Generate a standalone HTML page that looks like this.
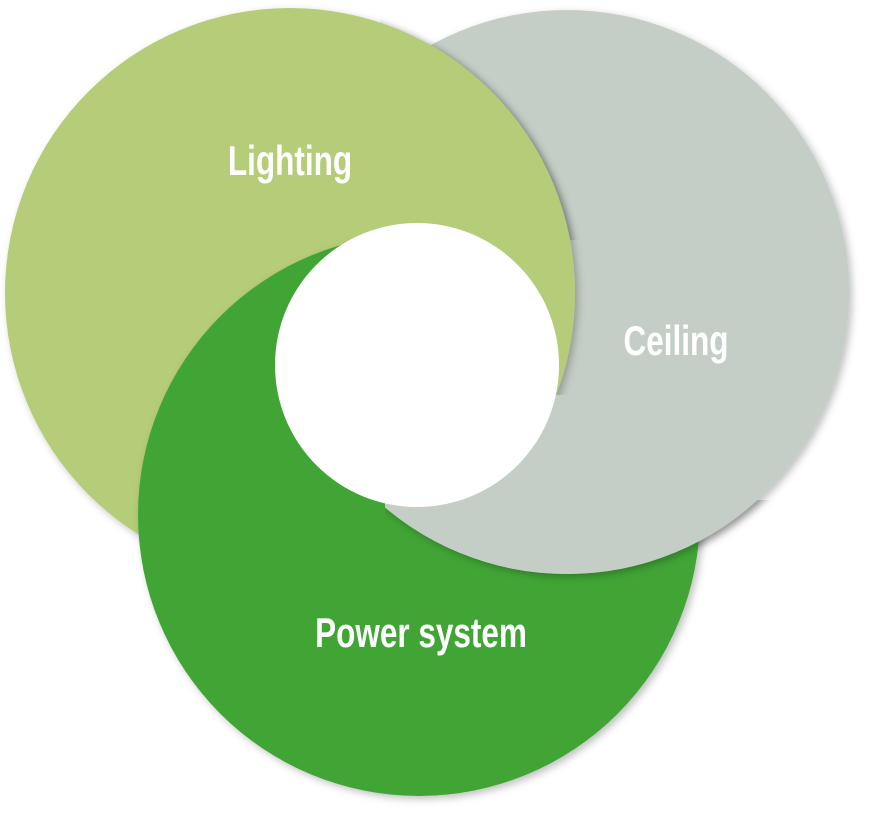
<!DOCTYPE html>
<html><head><meta charset="utf-8"><style>
html,body{margin:0;padding:0;background:#fff;width:870px;height:816px;overflow:hidden}
text{font-family:"Liberation Sans Narrow","Liberation Sans",sans-serif;font-weight:bold;fill:#fff}
</style></head><body>
<svg width="870" height="816" viewBox="0 0 870 816" xmlns="http://www.w3.org/2000/svg">
<defs>
<filter id="sh" x="-10%" y="-10%" width="120%" height="120%">
<feDropShadow dx="3" dy="3" stdDeviation="4" flood-color="#000" flood-opacity="0.25"/>
</filter>
<clipPath id="cpC"><path d="M385 240 L870 240 L870 816 L385 816 Z"/></clipPath>
<clipPath id="cpCs"><path d="M385 500 L870 500 L870 816 L385 816 Z"/></clipPath>
<clipPath id="cpL"><path d="M380 0 L870 0 L870 395 L380 395 Z"/></clipPath>
</defs>
<circle cx="567" cy="292" r="282" fill="#c4cec6" filter="url(#sh)"/>
<circle cx="290" cy="293" r="285" fill="#b5cc78" filter="url(#sh)"/>
<circle cx="419" cy="515" r="281" fill="#3fa535" filter="url(#sh)"/>
<g clip-path="url(#cpCs)"><circle cx="567" cy="292" r="282" fill="#c4cec6" filter="url(#sh)"/></g>
<g clip-path="url(#cpC)"><circle cx="567" cy="292" r="282" fill="#c4cec6"/></g>
<g clip-path="url(#cpL)"><circle cx="290" cy="293" r="285" fill="#b5cc78" filter="url(#sh)"/></g>
<circle cx="417" cy="365" r="142" fill="#fff"/>
<text x="290" y="175" font-size="42" text-anchor="middle" transform="translate(290 0) scale(0.75 1) translate(-290 0)">Lighting</text>
<text x="676" y="355" font-size="42" text-anchor="middle" transform="translate(676 0) scale(0.75 1) translate(-676 0)">Ceiling</text>
<text x="421" y="647" font-size="42" text-anchor="middle" transform="translate(421 0) scale(0.75 1) translate(-421 0)">Power system</text>
</svg>
</body></html>
